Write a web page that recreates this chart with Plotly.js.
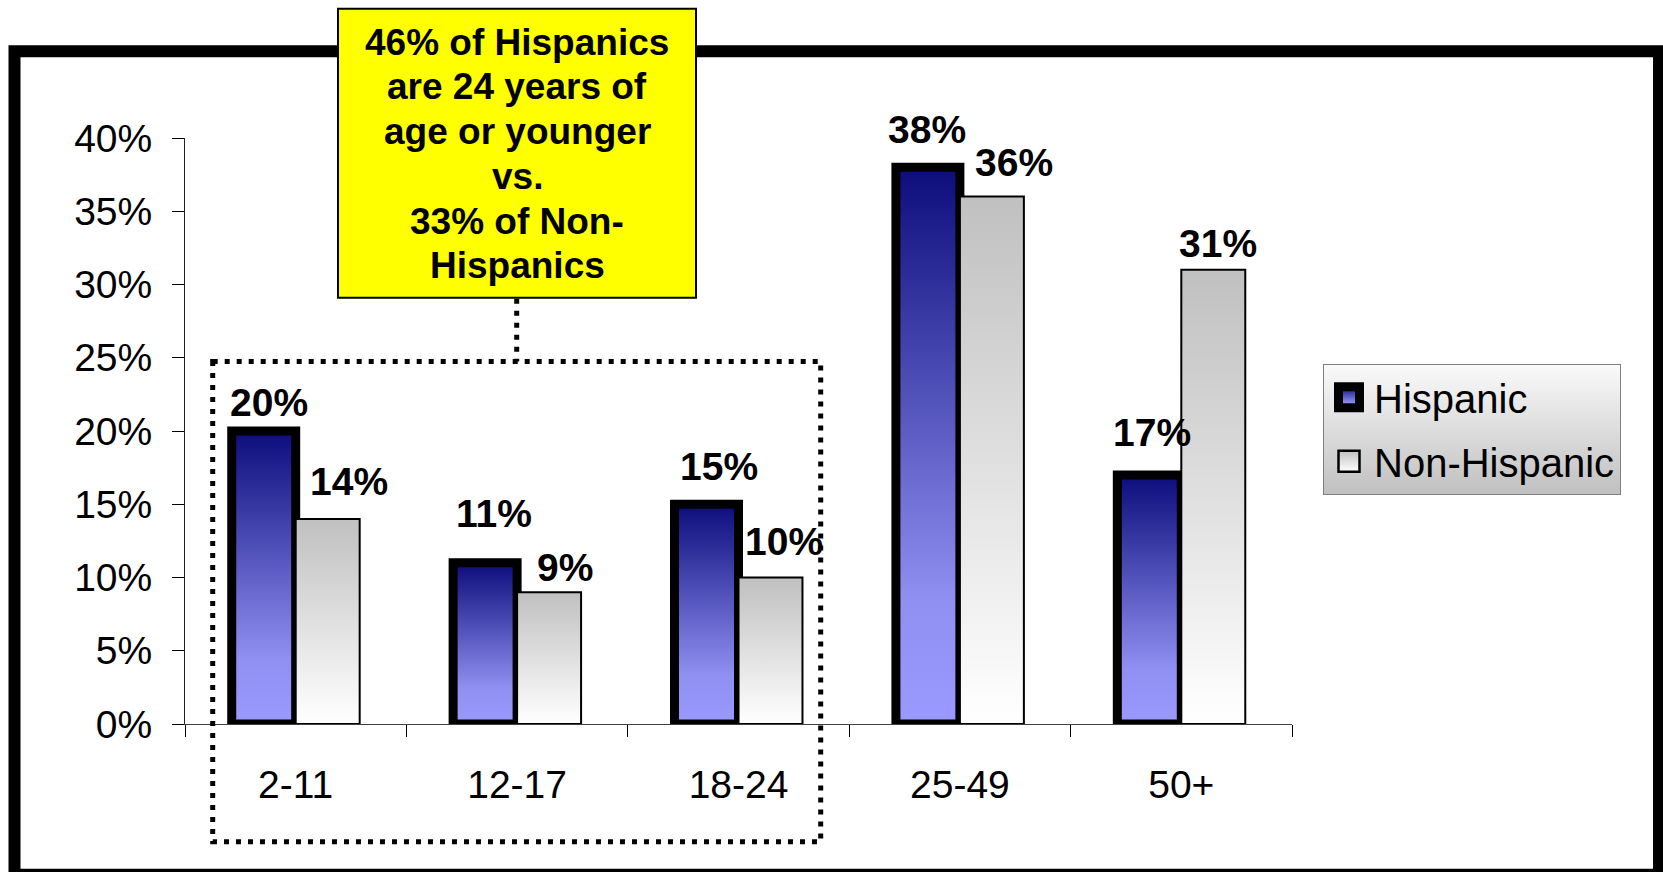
<!DOCTYPE html>
<html>
<head>
<meta charset="utf-8">
<script src="https://cdn.plot.ly/plotly-3.0.1.min.js"></script>
<style>
html,body{margin:0;padding:0;background:#fff;overflow:hidden;}
#chart{width:1663px;height:872px;}
</style>
</head>
<body>
<div id="chart"></div>
<script>
// ---------------- data ----------------
const categories = ['2-11', '12-17', '18-24', '25-49', '50+'];
const hispanic = [20, 11, 15, 38, 17];
const nonHispanic = [14, 9, 10, 36, 31];
const yTickValues = [0, 5, 10, 15, 20, 25, 30, 35, 40];
const yTickLabels = ['0%', '5%', '10%', '15%', '20%', '25%', '30%', '35%', '40%'];
const seriesNames = ['Hispanic', 'Non-Hispanic'];
const calloutLines = ['46% of Hispanics', 'are 24 years of', 'age or younger', 'vs.', '33% of Non-', 'Hispanics'];

// ---------------- geometry helpers ----------------
const W = 1663, H = 872;
const M = {l: 185, r: 371, t: 138.3, b: 147.7};
const PW = W - M.l - M.r, PH = H - M.t - M.b;
const px = x => (x - M.l) / PW;
const py = y => (H - M.b - y) / PH;
const FONT = '"Liberation Sans", Arial, sans-serif';

// label offsets in pixels: [dx from bar centre, dy above bar top]
const hisLabelOff = [[5.5, 28.7], [8.7, 49], [12, 38], [-1, 37.8], [2.3, 42]];
const nonLabelOff = [[21, 37], [15.7, 25], [13.6, 36], [22, 34], [5, 26.7]];
const BAR_HALF = 32;

const data = [
  {
    type: 'bar', name: seriesNames[0], x: categories, y: hispanic,
    legendgroup: 'g1', cliponaxis: false, hoverinfo: 'skip',
    marker: {color: '#5a5ab8', line: {color: '#000000', width: 9}}
  },
  {
    type: 'bar', name: seriesNames[1], x: categories, y: nonHispanic,
    legendgroup: 'g2', cliponaxis: false, hoverinfo: 'skip',
    marker: {color: '#dedede', line: {color: '#000000', width: 2}}
  }
];

const annotations = [];
hispanic.forEach((v, i) => annotations.push({
  x: categories[i], y: v, xref: 'x', yref: 'y', text: v + '%', showarrow: false,
  xshift: -BAR_HALF + hisLabelOff[i][0], yshift: hisLabelOff[i][1],
  xanchor: 'center', yanchor: 'middle',
  font: {family: FONT, size: 39, color: '#000', weight: 'bold'}
}));
nonHispanic.forEach((v, i) => annotations.push({
  x: categories[i], y: v, xref: 'x', yref: 'y', text: v + '%', showarrow: false,
  xshift: BAR_HALF + nonLabelOff[i][0], yshift: nonLabelOff[i][1],
  xanchor: 'center', yanchor: 'middle',
  font: {family: FONT, size: 39, color: '#000', weight: 'bold'}
}));
// callout text, one line each
const CALLOUT_TOP = 42.4, CALLOUT_STEP = 44.76;
calloutLines.forEach((t, i) => annotations.push({
  xref: 'paper', yref: 'paper', x: px(517), y: py(CALLOUT_TOP + i * CALLOUT_STEP),
  xanchor: 'center', yanchor: 'middle', showarrow: false, text: t,
  font: {family: FONT, size: 37, color: '#000', weight: 'bold'}
}));

const DOT = {color: '#000000', width: 5, dash: '5px,7px'};
const shapes = [
  // outer frame
  {type: 'rect', xref: 'paper', yref: 'paper', x0: px(14.5), x1: px(1659), y0: py(51.5), y1: py(875),
   line: {color: '#000000', width: 12}, fillcolor: 'rgba(0,0,0,0)', layer: 'below'},
  // yellow callout box
  {type: 'rect', xref: 'paper', yref: 'paper', x0: px(338), x1: px(696), y0: py(9), y1: py(298),
   line: {color: '#000000', width: 2}, fillcolor: '#ffff00', layer: 'below'},
  // dotted grouping rectangle
  {type: 'rect', xref: 'paper', yref: 'paper', x0: px(212.7), x1: px(820.7), y0: py(361.7), y1: py(842),
   line: DOT, fillcolor: 'rgba(0,0,0,0)', layer: 'above'},
  // connector from callout
  {type: 'line', xref: 'paper', yref: 'paper', x0: px(516.7), x1: px(516.7), y0: py(299), y1: py(361.7),
   line: DOT, layer: 'above'}
];

const layout = {
  width: W, height: H,
  margin: {l: M.l, r: M.r, t: M.t, b: M.b, pad: 0},
  paper_bgcolor: '#ffffff', plot_bgcolor: 'rgba(0,0,0,0)',
  barmode: 'group', bargap: 0.422, bargroupgap: 0,
  font: {family: FONT, color: '#000'},
  showlegend: true,
  xaxis: {
    type: 'category', range: [-0.5, 4.5],
    showline: true, linecolor: '#404040', linewidth: 1,
    ticks: 'outside', tickson: 'boundaries', ticklen: 12, tickcolor: '#000', tickwidth: 1,
    tickfont: {family: FONT, size: 39, color: '#000'},
    ticklabelstandoff: 26, showgrid: false, zeroline: false, fixedrange: true
  },
  yaxis: {
    range: [0, 40], tickvals: yTickValues, ticktext: yTickLabels,
    showline: true, linecolor: '#202020', linewidth: 1,
    ticks: 'outside', ticklen: 12, tickcolor: '#000', tickwidth: 1,
    tickfont: {family: FONT, size: 39, color: '#000'},
    ticklabelstandoff: 12, showgrid: false, zeroline: false, fixedrange: true
  },
  legend: {
    x: px(1323), y: py(364), xanchor: 'left', yanchor: 'top',
    bgcolor: '#e0e0e0', bordercolor: '#808080', borderwidth: 1,
    font: {family: FONT, size: 40, color: '#000'},
    traceorder: 'grouped', tracegroupgap: 9, itemwidth: 40
  },
  annotations: annotations,
  shapes: shapes
};

const gd = document.getElementById('chart');
Plotly.newPlot(gd, data, layout, {staticPlot: true, displayModeBar: false}).then(() => {
  const NS = 'http://www.w3.org/2000/svg';
  const svg = gd.querySelector('svg.main-svg');
  let defs = svg.querySelector('defs');
  if (!defs) { defs = document.createElementNS(NS, 'defs'); svg.insertBefore(defs, svg.firstChild); }
  function grad(id, stops) {
    const g = document.createElementNS(NS, 'linearGradient');
    g.setAttribute('id', id);
    g.setAttribute('x1', '0'); g.setAttribute('y1', '0');
    g.setAttribute('x2', '0'); g.setAttribute('y2', '1');
    stops.forEach(([o, c]) => {
      const s = document.createElementNS(NS, 'stop');
      s.setAttribute('offset', o); s.setAttribute('stop-color', c);
      g.appendChild(s);
    });
    defs.appendChild(g);
  }
  grad('gHis', [[0, '#0c0c7c'], [0.78, '#9090f2'], [1, '#9999ff']]);
  grad('gNon', [[0, '#c0c0c0'], [1, '#ffffff']]);
  grad('gLeg', [[0, '#fafafa'], [1, '#c0c0c0']]);

  const traces = gd.querySelectorAll('.barlayer .trace');
  if (traces[0]) traces[0].querySelectorAll('.point path').forEach(p => { p.style.fill = 'url(#gHis)'; });
  if (traces[1]) traces[1].querySelectorAll('.point path').forEach(p => { p.style.fill = 'url(#gNon)'; });

  const bg = gd.querySelector('.legend .bg');
  if (bg) bg.style.fill = 'url(#gLeg)';
  const legTraces = gd.querySelectorAll('.legend .traces');
  legTraces.forEach((t, i) => {
    t.querySelectorAll('.legendpoints path').forEach(p => {
      p.setAttribute('d', 'M10.5,10.5H-10.5V-10.5H10.5Z');
      if (i === 0) {
        p.style.fill = 'url(#gHis)';
        p.style.strokeWidth = '9px';
      } else {
        p.style.fill = 'url(#gNon)';
        p.style.strokeWidth = '2.5px';
      }
      p.style.stroke = '#000';
    });
  });
});
</script>
</body>
</html>
